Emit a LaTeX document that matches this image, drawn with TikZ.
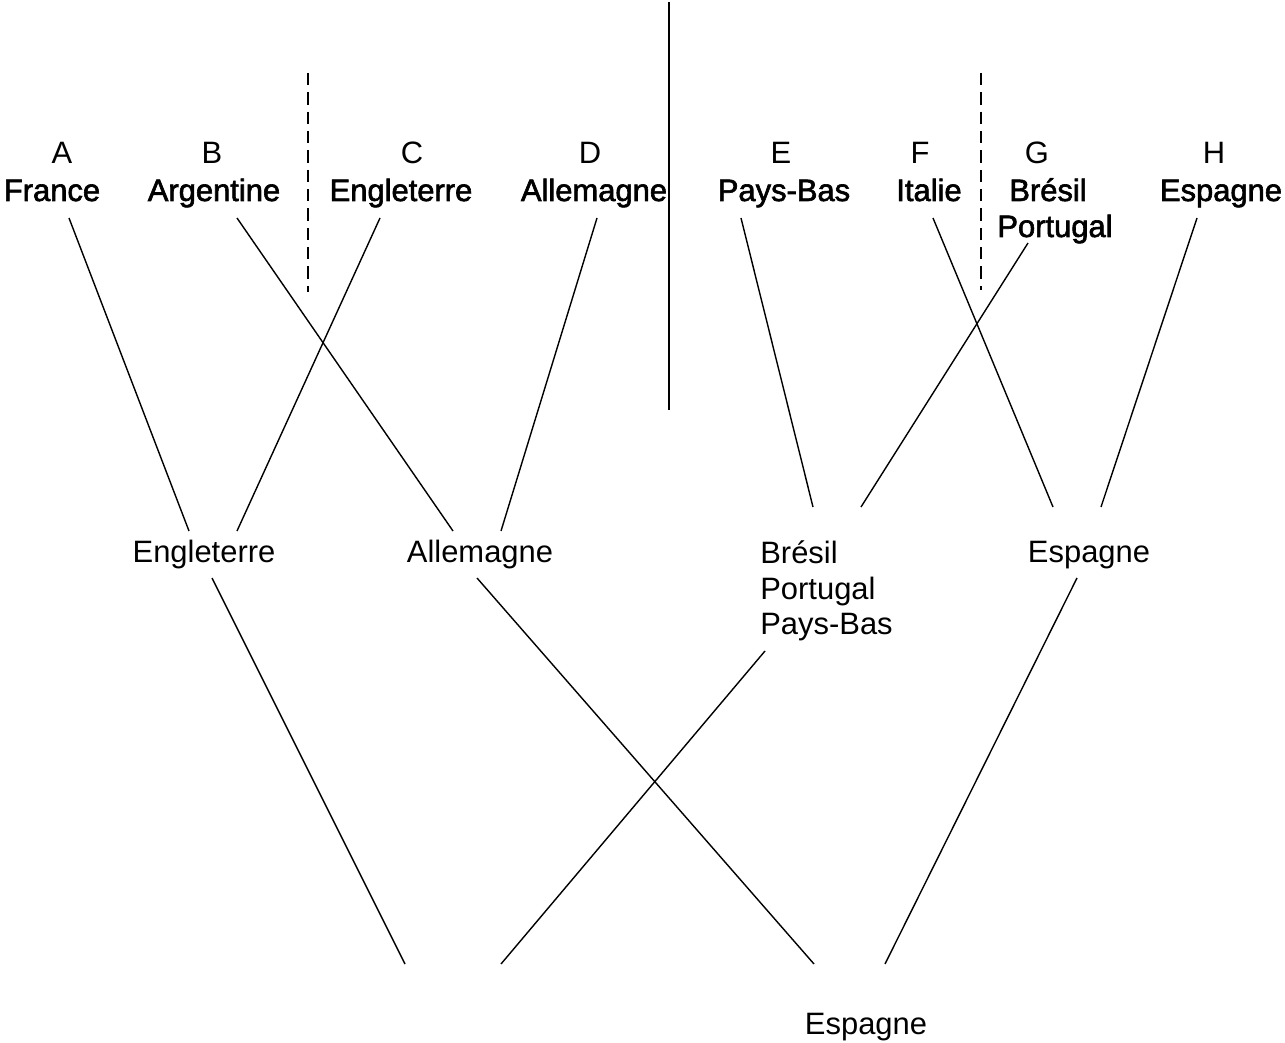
\documentclass[tikz,border=0pt]{standalone}
\usepackage{fontspec}
\setmainfont{Liberation Sans}
\newfontfamily\heavyfont[FakeBold=2]{Liberation Sans}
\usepackage{tikz}
\usetikzlibrary{positioning}

\begin{document}
\begin{tikzpicture}[x=0.02cm,y=-0.02cm,
  lbl/.style={inner sep=0pt,anchor=base,font=\fontsize{17.6}{20.4}\selectfont},
  cty/.style={lbl,font=\fontsize{17.6}{20.4}\heavyfont},
  link/.style={line width=0.8pt},
  sep/.style={line width=0.8pt,dash pattern=on 7pt off 4pt}]
\useasboundingbox (0,0) rectangle (1285,1043);
\draw[link] (669,2) -- (669,410);
\draw[sep] (308,73) -- (308,292);
\draw[sep] (981,73) -- (981,290);
\foreach \n/\x/\t in {la/62/A,lb/212/B,lc/412/C,ld/590/D,le/781/E,lf/920/F,lg/1037/G,lh/1214/H}
  \node[lbl] (\n) at (\x,164) {\t};
\node[cty] (fr) at (52,201) {France};
\node[cty] (ar) at (214,201) {Argentine};
\node[cty] (en) at (401,201) {Engleterre};
\node[cty] (al) at (594,201) {Allemagne};
\node[cty] (pb) at (784,201) {Pays-Bas};
\node[cty] (it) at (929,201) {Italie};
\node[cty] (br) at (1048,201) {Brésil};
\node[cty] (po) at (1055,237) {Portugal};
\node[cty] (es) at (1221,201) {Espagne};
\node[lbl] (men) at (204,563) {Engleterre};
\node[lbl] (mal) at (480,563) {Allemagne};
\node[lbl,anchor=base west,align=left] (mbr) at (760,635) {Brésil\\Portugal\\Pays-Bas};
\node[lbl] (mes) at (1089,563) {Espagne};
\node[lbl] (fin) at (866,1034) {Espagne};
\foreach \n/\x/\y in {fr0/69/218,fr1/189/531,ar0/237/218,ar1/453/531,
  en0/380/218,en1/237/531,al0/597/218,al1/501/531,
  pb0/741/218,pb1/813/507,it0/933/218,it1/1053/507,
  po0/1028/243,po1/861/507,es0/1197/218,es1/1101/507,
  men0/212/578,men1/405/964,mal0/477/578,mal1/814/964,
  mbr0/765/651,mbr1/501/964,mes0/1077/578,mes1/885/964}
  \coordinate (\n) at (\x,\y);
\foreach \n in {fr,ar,en,al,pb,it,po,es,men,mal,mbr,mes}
  \draw[link] (\n0) -- (\n1);
\end{tikzpicture}
\end{document}
